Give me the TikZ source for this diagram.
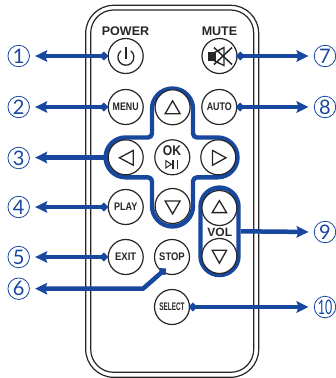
\documentclass[tikz,border=0pt]{standalone}
\usepackage{fontspec}
\usepackage{graphicx}
\setmainfont{Liberation Sans}
\newfontfamily\numfont{Lato}
\usetikzlibrary{arrows.meta}
\definecolor{rblue}{HTML}{17479E}
\definecolor{rdark}{HTML}{262626}
\newcommand{\lb}[2]{\scalebox{#1}[1]{#2}}
\tikzset{
  btn/.style={circle,draw=rdark,line width=1.2pt,minimum size=35pt,inner sep=0pt,fill=white,text=rdark,font=\bfseries\fontsize{11}{11}\selectfont},
  captext/.style={text=rdark,inner sep=0pt,font=\bfseries\fontsize{12.5}{13}\selectfont},
  bodyline/.style={draw=rdark,line width=1.2pt},
  groupline/.style={draw=rblue,line width=4.4pt},
  tri/.style={draw=rdark,line width=1.3pt,line join=miter},
  num/.style={circle,draw=rblue,line width=0.8pt,minimum size=21.5pt,inner sep=0pt,text=rblue,font=\numfont\fontsize{20}{20}\selectfont},
  conn/.style={draw=rblue,line width=4.5pt,line join=round,shorten >=5.3pt},
  dotarrow/.style={conn,{Circle[length=7.5pt,width=7.5pt]}-{Stealth[length=12pt,width=11.5pt,inset=2pt]}},
  plainarrow/.style={conn,-{Stealth[length=12pt,width=11.5pt,inset=2pt]}}
}
\begin{document}
\begin{tikzpicture}[x=1pt,y=-1pt]
\useasboundingbox (0,0) rectangle (336,378);
% body
\draw[bodyline,rounded corners=28pt] (85.7,5.3) rectangle (258.7,377.3);
\draw[bodyline,rounded corners=23pt] (90.7,10) rectangle (253.7,372.3);
% captions
\node[captext] (powercap) at (125.5,31) {POWER};
\node[captext] (mutecap) at (219.5,31) {MUTE};
% groups
\draw[groupline,line join=round] (152,109) arc[start angle=180,end angle=360,radius=20.5] -- (193,133.5)
  arc[start angle=180,end angle=90,radius=4] -- (217.6,137.5)
  arc[start angle=270,end angle=450,radius=19.9] -- (197,177.3)
  arc[start angle=270,end angle=180,radius=4] -- (193,206)
  arc[start angle=0,end angle=180,radius=20.5] -- (152,181.3)
  arc[start angle=0,end angle=-90,radius=4] -- (125.5,177.3)
  arc[start angle=90,end angle=270,radius=19.9] -- (148,137.5)
  arc[start angle=90,end angle=0,radius=4] -- cycle;
\coordinate (crossleft) at (105.5,157.5);
\node[groupline,rounded corners=19pt,minimum width=38pt,minimum height=87.5pt,inner sep=0pt] (volgrp) at (219.5,231.3) {};
% buttons
\node[btn] (power) at (125.7,56) {};
\node[btn] (mute) at (219.5,56) {};
\node[btn] (menu) at (125.7,107) {\lb{0.8}{MENU}};
\node[btn] (auto) at (219.3,107) {\lb{0.81}{AUTO}};
\node[btn] (up) at (172.6,107.3) {};
\node[btn] (left) at (125.7,157.3) {};
\node[btn] (ok) at (172.3,157.3) {};
\node[btn] (right) at (218.3,157.3) {};
\node[btn] (down) at (172.6,206) {};
\node[btn] (play) at (125.7,207) {\lb{0.82}{PLAY}};
\node[btn] (exit) at (125.7,257) {\lb{0.86}{EXIT}};
\node[btn] (stop) at (172,257) {\lb{0.86}{STOP}};
\node[btn] (select) at (172,307) {\lb{0.58}{SELECT}};
\node[btn] (volup) at (219.4,208) {};
\node[btn] (voldown) at (219.4,256) {};
\node[captext] (volcap) at (219.8,232) {\fontsize{12}{12}\selectfont VOL};
% icons
\draw[rdark,line width=1.3pt,line cap=butt] (121.0,50.9) arc[start angle=232,end angle=-52,radius=8];
\draw[rdark,line width=1.3pt] (126,46.7) -- (126,58.5);
\fill[rdark] (207.7,52.3) rectangle (215.5,61);
\draw[rdark,line width=1.4pt,line join=miter] (214.5,52.5) -- (224,47.5) -- (224,65.5) -- (214.5,61);
\draw[rdark,line width=1.5pt] (214,47.5) -- (232,64.5) (232,47.5) -- (214,64.5);
\draw[tri] (165.1,113.8) -- (172.6,100.8) -- (180.1,113.8) -- cycle;
\draw[tri] (165.1,200.9) -- (172.6,213.9) -- (180.1,200.9) -- cycle;
\draw[tri] (133.3,150.4) -- (119.5,157.8) -- (133.3,165.2) -- cycle;
\draw[tri] (212.5,150.4) -- (226,157.8) -- (212.5,165.2) -- cycle;
\draw[tri] (212.2,212.6) -- (219.4,200.6) -- (226.6,212.6) -- cycle;
\draw[tri] (212.2,250.2) -- (219.4,263.2) -- (226.6,250.2) -- cycle;
\node[inner sep=0pt,text=rdark,font=\bfseries\fontsize{14}{14}\selectfont] (oktext) at (172,151) {\lb{0.87}{OK}};
\draw[rdark,line width=1pt,line join=miter] (165.8,160.6) -- (171.4,164.3) -- (165.8,168) -- cycle;
\draw[rdark,line width=1.6pt] (172.8,160) -- (172.8,168.5) (177.4,160) -- (177.4,168.5);
% numbers
\node[num] (n1) at (18.7,56) {1};
\node[num] (n2) at (18.7,107) {2};
\node[num] (n3) at (18.7,158) {3};
\node[num] (n4) at (18.7,207) {4};
\node[num] (n5) at (18.7,257) {5};
\node[num] (n6) at (18.7,288.7) {6};
\node[num] (n7) at (325,56) {7};
\node[num] (n8) at (325,107) {8};
\node[num] (n9) at (325,232) {9};
\node[num] (n10) at (325,307) {\lb{0.62}{10}};
% connectors
\path[dotarrow] (power.west) -- (n1.east);
\path[dotarrow] (menu.west) -- (n2.east);
\path[plainarrow,shorten <=-1pt] (crossleft) -- (n3.east |- crossleft);
\path[dotarrow] (play.west) -- (n4.east);
\path[dotarrow] (exit.west) -- (n5.east);
\coordinate (stopdot) at (165.5,269);
\coordinate (bend) at (143,288.7);
\path[dotarrow] (stopdot) -- (bend) -- (n6.east);
\path[dotarrow] ([xshift=-1pt]mute.east) -- (n7.west);
\path[dotarrow] ([xshift=-1pt]auto.east) -- (n8.west);
\path[plainarrow] (volgrp.east) -- (n9.west);
\path[dotarrow] ([xshift=-1pt]select.east) -- (n10.west);
\end{tikzpicture}
\end{document}
